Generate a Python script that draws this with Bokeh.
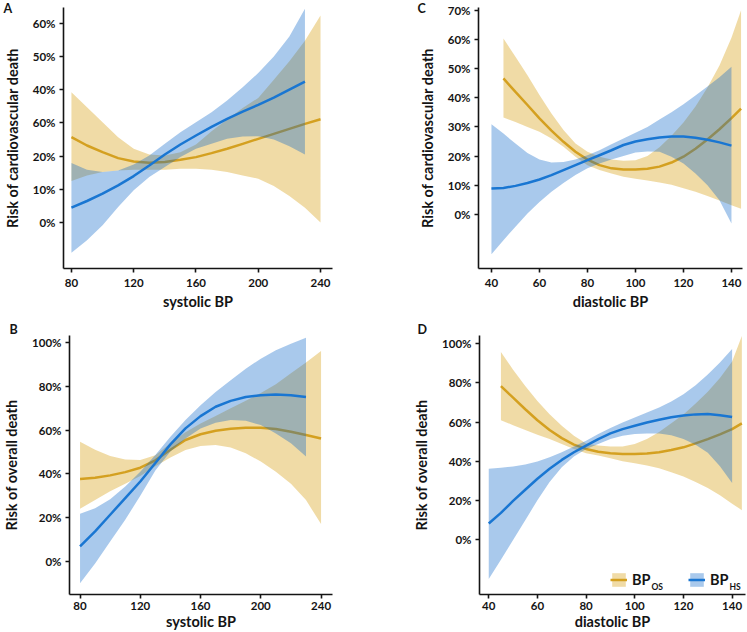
from bokeh.plotting import figure
from bokeh.models import FixedTicker, Label, Legend, LegendItem, Range1d, Title
from bokeh.layouts import column, row
from bokeh.embed import file_html
from bokeh.resources import INLINE

# ---------------- data (risk in %) ----------------
# Panel A: systolic BP vs cardiovascular death
A_sbp_os = [80, 90, 100, 110, 120, 130, 140, 150, 160, 170, 180, 190, 200, 210, 220, 230, 240]
A_os_fit = [25.7, 23.2, 21.2, 19.4, 18.4, 18.0, 18.2, 18.9, 19.7, 20.9, 22.2, 23.7, 25.2, 26.7, 28.2, 29.7, 31.1]
A_os_hi = [39.2, 34.7, 30.2, 25.7, 22.2, 20.5, 20.2, 21.2, 23.5, 27.5, 31.0, 34.5, 37.5, 43.0, 48.5, 54.7, 62.3]
A_os_lo = [12.5, 14.2, 15.2, 15.7, 15.9, 15.9, 15.9, 16.2, 16.2, 15.9, 15.2, 14.2, 13.2, 11.0, 8.0, 4.5, 0.0]
A_sbp_hs = [80, 90, 100, 110, 120, 130, 140, 150, 160, 170, 180, 190, 200, 210, 220, 230]
A_hs_fit = [4.5, 6.5, 8.7, 11.2, 14.0, 17.2, 20.5, 23.5, 26.2, 28.8, 31.2, 33.4, 35.4, 37.6, 40.0, 42.4]
A_hs_hi = [17.9, 15.9, 15.2, 15.7, 17.5, 20.2, 23.7, 27.2, 30.2, 33.2, 36.7, 40.7, 45.0, 50.0, 56.0, 64.3]
A_hs_lo = [-9.1, -5.3, -0.8, 4.7, 9.7, 13.7, 16.7, 19.7, 22.2, 23.7, 25.2, 25.9, 26.0, 25.0, 23.0, 20.5]
A_yticks = [0, 10, 20, 30, 40, 50, 60]
A_ytick_labels = ["0%", "10%", "20%", "60%", "40%", "50%", "60%"]

# Panel C: diastolic BP vs cardiovascular death
C_dbp_os = [45, 50, 55, 60, 65, 70, 75, 80, 85, 90, 95, 100, 105, 110, 115, 120, 125, 130, 135, 140, 144]
C_os_fit = [46.6, 42.0, 37.5, 32.9, 28.7, 24.9, 21.5, 18.8, 16.9, 15.8, 15.4, 15.4, 15.7, 16.4, 17.8, 19.8, 22.5, 25.7, 29.2, 33.0, 36.3]
C_os_hi = [60.3, 54.0, 47.7, 40.9, 34.6, 28.9, 24.3, 21.5, 19.8, 18.8, 18.4, 18.6, 20.0, 23.0, 27.0, 31.5, 37.0, 43.5, 51.0, 60.5, 70.0]
C_os_lo = [33.2, 31.7, 30.0, 28.3, 26.0, 23.2, 19.8, 16.9, 15.2, 14.0, 12.9, 12.2, 11.6, 11.0, 10.2, 9.0, 7.8, 6.3, 4.8, 3.2, 2.0]
C_dbp_hs = [40, 45, 50, 55, 60, 65, 70, 75, 80, 85, 90, 95, 100, 105, 110, 115, 120, 125, 130, 135, 140]
C_hs_fit = [8.9, 9.1, 9.8, 10.8, 12.0, 13.5, 15.2, 16.9, 18.6, 20.3, 22.0, 23.8, 25.0, 25.8, 26.4, 26.7, 26.7, 26.3, 25.6, 24.7, 23.6]
C_hs_hi = [30.9, 27.7, 24.3, 21.1, 18.8, 17.8, 18.0, 18.8, 20.3, 22.0, 24.1, 26.0, 28.0, 30.0, 32.5, 35.0, 37.8, 40.8, 43.8, 47.0, 50.6]
C_hs_lo = [-13.6, -8.8, -4.2, 0.3, 4.3, 7.8, 10.8, 13.5, 15.8, 17.5, 18.8, 20.0, 21.2, 21.6, 21.5, 19.8, 17.5, 14.0, 10.0, 4.9, -3.1]
C_yticks = [0, 10, 20, 30, 40, 50, 60, 70]
C_ytick_labels = ["0%", "10%", "20%", "30%", "40%", "50%", "60%", "70%"]

# Panel B: systolic BP vs overall death
B_sbp_os = [80, 90, 100, 110, 120, 130, 140, 150, 160, 170, 180, 190, 200, 210, 220, 230, 240]
B_os_fit = [37.7, 38.2, 39.3, 40.8, 42.8, 46.2, 51.0, 55.5, 58.1, 59.7, 60.6, 61.1, 61.1, 60.5, 59.3, 57.8, 56.2]
B_os_hi = [54.7, 51.0, 48.2, 46.6, 46.3, 48.5, 54.0, 59.0, 63.0, 66.5, 70.0, 73.5, 77.0, 81.0, 86.0, 91.0, 96.2]
B_os_lo = [24.0, 28.0, 32.0, 35.5, 39.0, 43.5, 47.5, 50.9, 52.7, 53.2, 52.1, 49.4, 45.6, 41.0, 35.5, 28.0, 17.0]
B_sbp_hs = [80, 90, 100, 110, 120, 130, 140, 150, 160, 170, 180, 190, 200, 210, 220, 230]
B_hs_fit = [6.8, 13.7, 21.3, 28.9, 36.5, 45.0, 53.5, 60.8, 66.4, 70.7, 73.4, 75.2, 76.0, 76.3, 76.0, 75.2]
B_hs_hi = [21.7, 24.3, 28.4, 34.2, 41.0, 48.6, 57.0, 64.6, 71.4, 77.5, 82.8, 88.1, 92.7, 96.5, 99.5, 102.3]
B_hs_lo = [-10.0, -1.0, 9.0, 19.0, 30.0, 41.5, 50.2, 56.2, 60.8, 63.4, 64.6, 64.3, 62.3, 58.5, 54.0, 47.9]
B_yticks = [0, 20, 40, 60, 80, 100]
B_ytick_labels = ["0%", "20%", "40%", "60%", "80%", "100%"]

# Panel D: diastolic BP vs overall death
D_dbp_os = [45, 50, 55, 60, 65, 70, 75, 80, 85, 90, 95, 100, 105, 110, 115, 120, 125, 130, 135, 140, 144]
D_os_fit = [78.4, 72.5, 66.6, 61.0, 56.0, 51.9, 48.6, 46.4, 45.0, 44.2, 43.8, 43.8, 44.1, 44.7, 45.8, 47.2, 49.2, 51.4, 53.8, 56.5, 59.4]
D_os_hi = [95.8, 86.8, 78.4, 70.8, 64.1, 58.2, 53.1, 49.2, 48.1, 47.6, 47.6, 48.9, 51.4, 55.0, 59.5, 64.0, 69.5, 75.5, 82.5, 91.0, 104.0]
D_os_lo = [61.0, 58.5, 56.0, 53.6, 51.4, 48.9, 46.4, 44.2, 43.0, 41.7, 40.1, 39.1, 37.9, 36.6, 34.5, 32.3, 29.5, 26.5, 22.8, 18.5, 15.2]
D_dbp_hs = [40, 45, 50, 55, 60, 65, 70, 75, 80, 85, 90, 95, 100, 105, 110, 115, 120, 125, 130, 135, 140]
D_hs_fit = [8.4, 13.8, 19.9, 25.6, 31.2, 36.3, 40.8, 44.7, 48.1, 51.4, 54.3, 56.5, 58.2, 59.9, 61.3, 62.5, 63.4, 64.0, 64.2, 63.6, 62.7]
D_hs_hi = [36.3, 36.8, 37.4, 38.4, 40.0, 42.2, 44.7, 47.6, 50.6, 54.0, 57.0, 59.9, 62.4, 64.9, 67.5, 70.5, 74.2, 78.8, 84.3, 90.5, 97.3]
D_hs_lo = [-19.9, -10.1, 0.0, 10.1, 20.2, 29.5, 37.1, 42.5, 46.4, 48.9, 51.4, 53.1, 54.0, 54.3, 54.3, 53.3, 51.5, 48.5, 44.5, 37.5, 29.0]
D_yticks = [0, 20, 40, 60, 80, 100]
D_ytick_labels = ["0%", "20%", "40%", "60%", "80%", "100%"]

SBP_TICKS = [80, 120, 160, 200, 240]
DBP_TICKS = [40, 60, 80, 100, 120, 140]
LEGEND_LABELS = [("BP", "OS"), ("BP", "HS")]

# ---------------- styling ----------------
OS_LINE = "#D4A020"
OS_FILL = "#D9A520"
HS_LINE = "#1976D2"
HS_FILL = "#0A64C8"
INK = "#141414"
FONT = "Lato"


def make_title(letter, dx, standoff):
    kw = dict(text=letter, align="left", offset=dx, text_font=FONT,
              text_font_style="bold", text_font_size="12.5px", text_color=INK)
    try:
        return Title(standoff=standoff, **kw)
    except Exception:
        return Title(standoff=0, **kw)


def panel(letter, x_os, os_fit, os_lo, os_hi, x_hs, hs_fit, hs_lo, hs_hi,
          xr, yr, xticks, yticks, ylabels, xlabel, ylabel,
          width, height, borders, letter_dx, letter_standoff,
          xtick_standoff, xlab_standoff):
    p = figure(width=width, height=height,
               x_range=Range1d(*xr), y_range=Range1d(*yr),
               output_backend="svg", toolbar_location=None,
               min_border_left=borders[0], min_border_right=borders[1],
               min_border_top=borders[2], min_border_bottom=borders[3])
    p.outline_line_color = None
    p.xgrid.visible = False
    p.ygrid.visible = False

    r_os_band = p.varea(x=x_os, y1=os_lo, y2=os_hi, fill_color=OS_FILL, fill_alpha=0.4)
    r_os_line = p.line(x_os, os_fit, line_color=OS_LINE, line_width=2.5)
    r_hs_band = p.varea(x=x_hs, y1=hs_lo, y2=hs_hi, fill_color=HS_FILL, fill_alpha=0.35)
    r_hs_line = p.line(x_hs, hs_fit, line_color=HS_LINE, line_width=2.5)

    p.xaxis.ticker = FixedTicker(ticks=xticks)
    p.yaxis.ticker = FixedTicker(ticks=yticks)
    p.yaxis.major_label_overrides = {t: lab for t, lab in zip(yticks, ylabels)}
    p.xaxis.axis_label = xlabel
    p.yaxis.axis_label = ylabel
    for ax in (p.xaxis[0], p.yaxis[0]):
        ax.axis_line_width = 1.6
        ax.axis_line_color = INK
        ax.major_tick_line_width = 1.6
        ax.major_tick_line_color = INK
        ax.major_tick_out = 4
        ax.major_tick_in = 0
        ax.minor_tick_line_color = None
        ax.major_label_text_font = FONT
        ax.major_label_text_font_style = "bold"
        ax.major_label_text_font_size = "11.5px"
        ax.major_label_text_color = INK
        ax.axis_label_text_font = FONT
        ax.axis_label_text_font_style = "bold"
        ax.axis_label_text_font_size = "14.5px"
        ax.axis_label_text_color = INK
    p.xaxis.major_label_standoff = xtick_standoff
    p.xaxis.axis_label_standoff = xlab_standoff
    p.yaxis.major_label_standoff = 4
    p.yaxis.axis_label_standoff = 9

    p.add_layout(make_title(letter, letter_dx, letter_standoff), "above")
    return p, (r_os_band, r_os_line, r_hs_band, r_hs_line)


W_L, W_R = 372, 375
H_1, H_2 = 312, 320

pA, _ = panel("A", A_sbp_os, A_os_fit, A_os_lo, A_os_hi, A_sbp_hs, A_hs_fit, A_hs_lo, A_hs_hi,
              (74.9, 247.7), (-13.8, 64.7), SBP_TICKS, A_yticks, A_ytick_labels,
              "systolic BP", "Risk of cardiovascular death",
              W_L, H_1, (63, 40, 7, 44), -60, -17, 6, 3)
pC, _ = panel("C", C_dbp_os, C_os_fit, C_os_lo, C_os_hi, C_dbp_hs, C_hs_fit, C_hs_lo, C_hs_hi,
              (34.6, 144.6), (-18.5, 70.9), DBP_TICKS, C_yticks, C_ytick_labels,
              "diastolic BP", "Risk of cardiovascular death",
              W_R, H_1, (106, 5, 7, 44), -61, -17, 6, 3)
pB, _ = panel("B", B_sbp_os, B_os_fit, B_os_lo, B_os_hi, B_sbp_hs, B_hs_fit, B_hs_lo, B_hs_hi,
              (73.0, 247.6), (-15.2, 103.3), SBP_TICKS, B_yticks, B_ytick_labels,
              "systolic BP", "Risk of overall death",
              W_L, H_2, (63, 40, 23, 37), -60, -2, 3, 0)
pD, rD = panel("D", D_dbp_os, D_os_fit, D_os_lo, D_os_hi, D_dbp_hs, D_hs_fit, D_hs_lo, D_hs_hi,
               (36.2, 145.5), (-27.8, 104.2), DBP_TICKS, D_yticks, D_ytick_labels,
               "diastolic BP", "Risk of overall death",
               W_R, H_2, (107, 2, 22, 37), -62, -2, 3, 0)

# legend (inside panel D, bottom right)
LEG_X, LEG_Y = 131, 6
GLYPH, STANDOFF, LABEL_W, SPACING, BP_W = 17, 5, 54, 2, 19
legend = Legend(
    items=[LegendItem(label=LEGEND_LABELS[0][0], renderers=[rD[0], rD[1]]),
           LegendItem(label=LEGEND_LABELS[1][0], renderers=[rD[2], rD[3]])],
    orientation="horizontal", location=(LEG_X, LEG_Y),
    padding=0, margin=0, spacing=SPACING,
    glyph_width=GLYPH, glyph_height=GLYPH, label_standoff=STANDOFF,
    label_width=LABEL_W, label_height=GLYPH,
    border_line_color=None, background_fill_alpha=0,
    label_text_font=FONT, label_text_font_style="bold",
    label_text_font_size="14.5px", label_text_color=INK)
pD.add_layout(legend)
for i, (_, sub) in enumerate(LEGEND_LABELS):
    off_x = LEG_X + GLYPH + STANDOFF + BP_W + i * (GLYPH + STANDOFF + LABEL_W + SPACING)
    pD.add_layout(Label(x=36.2, y=-27.8, x_offset=off_x, y_offset=LEG_Y + 2,
                        text=sub, text_font=FONT, text_font_style="bold",
                        text_font_size="8.5px", text_color=INK,
                        text_align="left", text_baseline="alphabetic"))

layout = column(row(pA, pC), row(pB, pD))
open("out.html", "w").write(file_html(layout, INLINE))
